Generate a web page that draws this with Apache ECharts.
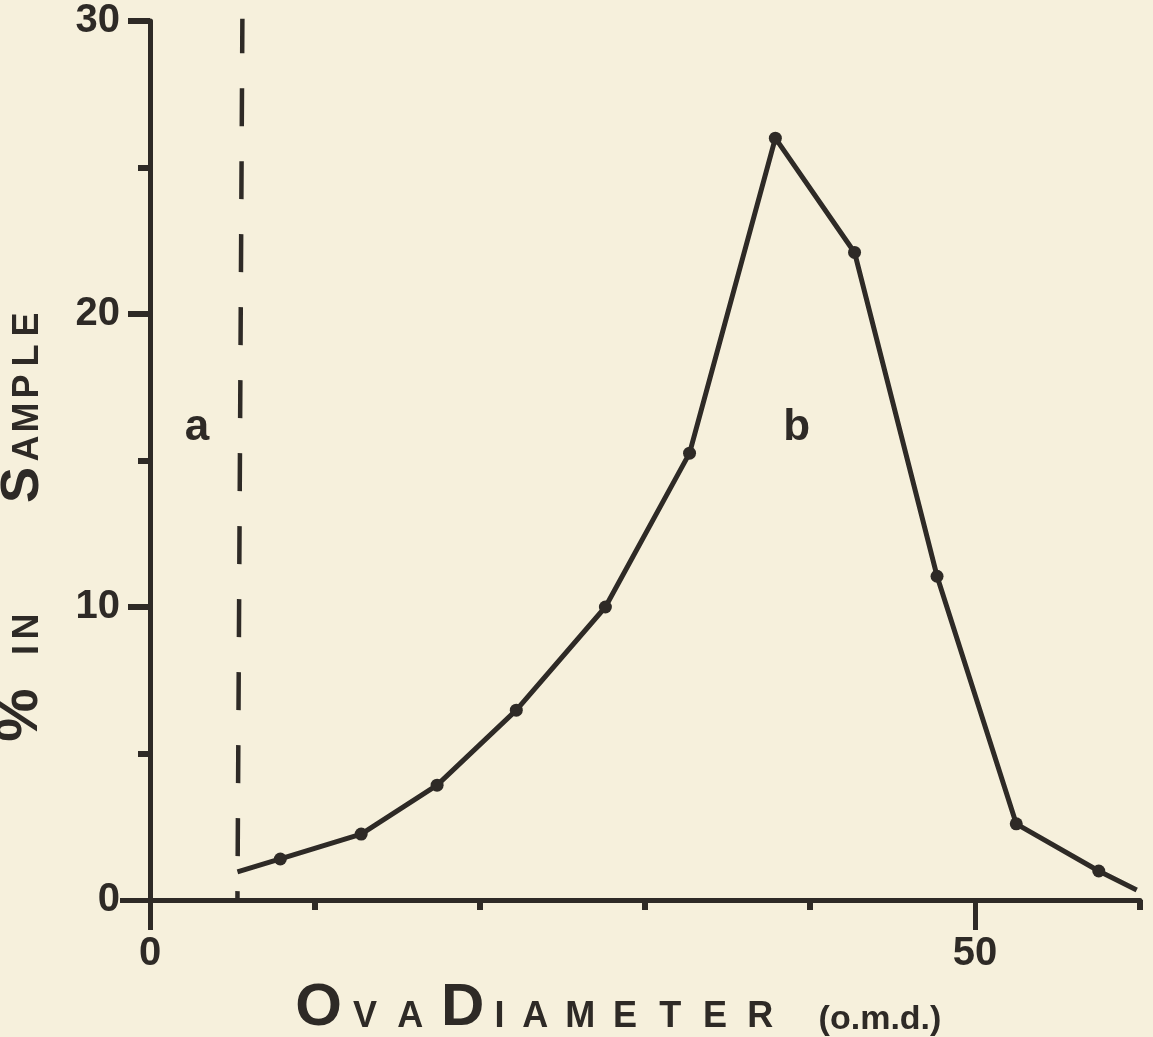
<!DOCTYPE html>
<html><head><meta charset="utf-8">
<script src="https://cdn.jsdelivr.net/npm/echarts@6/dist/echarts.min.js"></script>
<style>html,body{margin:0;padding:0;background:#f6f0dc}#c{width:1153px;height:1037px}</style>
</head><body><div id="c"></div>
<script>
// ---- data ----
const ovaDiameter     = [5.3, 7.9, 12.8, 17.4, 22.2, 27.6, 32.7, 37.9, 42.7, 47.7, 52.5, 57.5, 59.8];
const percentInSample = [0.96, 1.40, 2.25, 3.92, 6.48, 10.0, 15.25, 26.0, 22.1, 11.05, 2.6, 0.99, 0.34];
const plottedPoint    = [false, true, true, true, true, true, true, true, true, true, true, true, false];
const boundaryX = [5.6, 5.3];
const boundaryY = [30.2, 0];
const regionNames = ['a', 'b'];
const regionX = [2.85, 39.2];
const regionY = [16.1, 16.1];
const xTickValues  = [10, 20, 30, 40, 60];
const xLongTicks   = [0, 50];
const xLabelValues = [0, 50];
const yTickValues  = [10, 20, 30];
const yMinorTicks  = [5, 15, 25];
const yOriginTick  = [0];
const yLabelValues = [0, 10, 20, 30];

const INK = '#2e2a26';
const FONT = 'Liberation Sans';

const curveData = ovaDiameter.map((x, i) => ({
  value: [x, percentInSample[i]],
  symbol: plottedPoint[i] ? 'circle' : 'none'
}));
const boundaryData = boundaryX.map((x, i) => [x, boundaryY[i]]);
const regionData = regionNames.map((n, i) => ({ name: n, value: [regionX[i], regionY[i]] }));

const smallCap = (size, w) => ({ fontSize: size, fontWeight: 'bold', fontFamily: FONT, color: INK, width: w, align: 'center', verticalAlign: 'bottom', lineHeight: size, padding: [0, 0, 4, 0] });
const bigCap = (size, w) => ({ fontSize: size, fontWeight: 'bold', fontFamily: FONT, color: INK, width: w, align: 'center', verticalAlign: 'bottom', lineHeight: size });

const chart = echarts.init(document.getElementById('c'), null, { renderer: 'canvas' });
chart.setOption({
  backgroundColor: '#f6f0dc',
  animation: false,
  grid: { left: 150, right: 13, top: 21, bottom: 137, containLabel: false, outerBoundsMode: 'none' },
  xAxis: [
    {
      type: 'value', min: 0, max: 60, position: 'bottom',
      axisLine: { show: true, onZero: false, lineStyle: { color: INK, width: 5 } },
      axisTick: { show: true, customValues: xTickValues, length: 10, lineStyle: { color: INK, width: 6 } },
      axisLabel: { show: true, customValues: xLabelValues, margin: 34, fontSize: 40, fontWeight: 'bold', fontFamily: FONT, color: INK },
      splitLine: { show: false },
      name: '{B|O}{s|V}{s|A}{sp| }{B|D}{si|I}{s|A}{s|M}{s|E}{s|T}{s|E}{s|R}{sp2| }{p|(o.m.d.)}',
      nameLocation: 'middle', nameGap: 74,
      nameTextStyle: {
        padding: [0, 54, 0, 0],
        rich: {
          B: bigCap(60, 48), s: smallCap(36, 45), si: smallCap(36, 26),
          sp: { width: 6 }, sp2: { width: 36 },
          p: { fontSize: 34, fontWeight: 'bold', fontFamily: FONT, color: INK, verticalAlign: 'bottom', lineHeight: 40, padding: [0, 0, 2, 0] }
        }
      }
    },
    {
      type: 'value', min: 0, max: 60, position: 'bottom',
      axisLine: { show: false, onZero: false },
      axisTick: { show: true, customValues: xLongTicks, length: 30, lineStyle: { color: INK, width: 5 } },
      axisLabel: { show: false }, splitLine: { show: false }
    }
  ],
  yAxis: [
    {
      type: 'value', min: 0, max: 30, position: 'left',
      axisLine: { show: true, onZero: false, lineStyle: { color: INK, width: 5 } },
      axisTick: { show: true, customValues: yTickValues, length: 22, lineStyle: { color: INK, width: 6 } },
      axisLabel: { show: true, customValues: yLabelValues, margin: 30, fontSize: 40, fontWeight: 'bold', fontFamily: FONT, color: INK },
      splitLine: { show: false },
      name: '{P|%}{g| }{si|I}{s|N}{g2| }{B|S}{s|A}{s|M}{s|P}{s|L}{s|E}',
      nameLocation: 'middle', nameGap: 100,
      nameTextStyle: {
        padding: [0, 130, 0, 0],
        rich: {
          P: bigCap(60, 54), B: bigCap(54, 42), s: smallCap(36, 31), si: smallCap(36, 16),
          g: { width: 30 }, g2: { width: 105 }
        }
      }
    },
    {
      type: 'value', min: 0, max: 30, position: 'left',
      axisLine: { show: false, onZero: false },
      axisTick: { show: true, customValues: yOriginTick, length: 30, lineStyle: { color: INK, width: 5 } },
      axisLabel: { show: false }, splitLine: { show: false }
    },
    {
      type: 'value', min: 0, max: 30, position: 'left',
      axisLine: { show: false, onZero: false },
      axisTick: { show: true, customValues: yMinorTicks, length: 12, lineStyle: { color: INK, width: 6 } },
      axisLabel: { show: false }, splitLine: { show: false }
    }
  ],
  series: [
    {
      type: 'line', name: 'boundary', data: boundaryData, symbol: 'none', silent: true,
      lineStyle: { color: INK, width: 4.5, type: [38, 35] }
    },
    {
      type: 'line', name: '% in Sample', data: curveData, symbolSize: 13,
      itemStyle: { color: INK }, lineStyle: { color: INK, width: 5 }
    },
    {
      type: 'scatter', name: 'regions', data: regionData, symbolSize: 0, silent: true,
      itemStyle: { color: 'transparent', opacity: 1 },
      label: { show: true, position: 'inside', formatter: '{b}', fontSize: 44, fontWeight: 'bold', fontFamily: FONT, color: INK, opacity: 1 }
    }
  ]
});
</script>
</body></html>
